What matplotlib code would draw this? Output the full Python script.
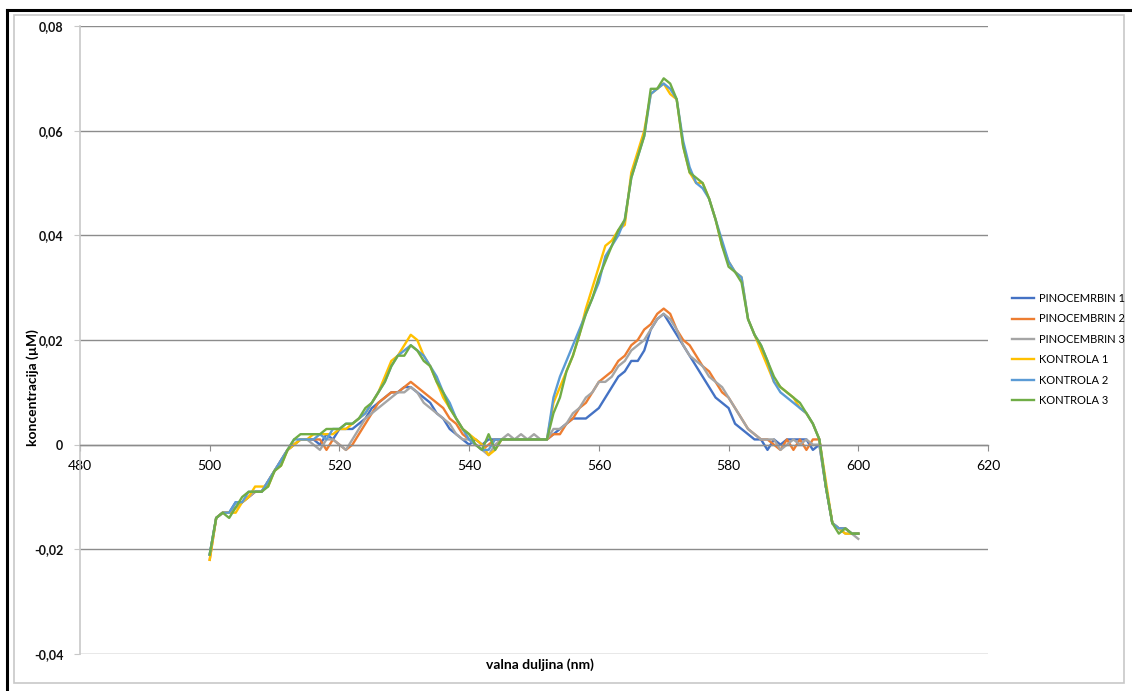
import numpy as np
import matplotlib
matplotlib.use("Agg")
import matplotlib.pyplot as plt
from matplotlib.patches import Rectangle

plt.rcParams["font.family"] = ["Lato", "DejaVu Sans"]

OUTPUT_NAME = "out.png"

# wavelength axis (nm), one reading per nm
WAVELENGTH = list(range(500, 601))

# concentrations in units of 0.001 uM (500..600 nm)
PINOCEMBRIN_1 = [
    -21, -14, -13, -13, -11, -11, -10, -9, -9, -7,
    -5, -3, -1, 0, 1, 1, 1, 0, 2, 1,
    3, 3, 3, 4, 5, 7, 8, 9, 10, 10,
    11, 11, 10, 9, 8, 6, 5, 3, 2, 1,
    0, 1, 0, 1, 1, 1, 1, 1, 1, 1,
    1, 1, 1, 2, 3, 4, 5, 5, 5, 6,
    7, 9, 11, 13, 14, 16, 16, 18, 22, 24,
    25, 23, 21, 19, 17, 15, 13, 11, 9, 8,
    7, 4, 3, 2, 1, 1, -1, 1, 0, 1,
    1, 1, 1, -1, 0, -8, -15, -16, -16, -17,
    -17,
]
PINOCEMBRIN_2 = [
    -22, -14, -13, -13, -12, -11, -10, -9, -9, -7,
    -5, -3, -1, 0, 1, 1, 1, 1, -1, 1,
    0, -1, 0, 2, 4, 6, 8, 9, 10, 10,
    11, 12, 11, 10, 9, 8, 7, 5, 4, 2,
    1, 0, -1, 0, 1, 1, 1, 1, 1, 1,
    1, 1, 1, 2, 2, 4, 5, 7, 8, 10,
    12, 13, 14, 16, 17, 19, 20, 22, 23, 25,
    26, 25, 22, 20, 19, 17, 15, 14, 12, 10,
    9, 7, 5, 3, 2, 1, 1, 0, -1, 1,
    -1, 1, -1, 1, 1, -8, -15, -16, -16, -17,
    -17,
]
PINOCEMBRIN_3 = [
    -21, -14, -13, -13, -12, -11, -10, -9, -9, -7,
    -5, -3, -1, 0, 1, 1, 0, -1, 1, 1,
    0, -1, 1, 3, 5, 6, 7, 8, 9, 10,
    10, 11, 10, 8, 7, 6, 5, 4, 2, 1,
    1, 0, -1, -2, 0, 1, 2, 1, 2, 1,
    2, 1, 1, 3, 3, 4, 6, 7, 9, 10,
    12, 12, 13, 15, 16, 18, 19, 20, 22, 24,
    25, 24, 22, 19, 17, 16, 15, 13, 12, 11,
    9, 7, 5, 3, 2, 1, 1, 1, -1, 0,
    1, 0, 1, 0, 0, -8, -15, -16, -17, -17,
    -18,
]
KONTROLA_1 = [
    -22, -14, -13, -13, -13, -11, -10, -8, -8, -8,
    -5, -4, -1, 0, 1, 1, 2, 2, 2, 2,
    3, 3, 4, 5, 6, 8, 10, 13, 16, 17,
    19, 21, 20, 17, 15, 12, 9, 7, 5, 3,
    2, 1, 0, -2, -1, 1, 1, 1, 1, 1,
    1, 1, 1, 8, 11, 14, 17, 21, 26, 30,
    34, 38, 39, 41, 42, 52, 56, 60, 67, 68,
    69, 67, 66, 57, 52, 50, 50, 47, 43, 38,
    35, 33, 32, 24, 21, 18, 15, 12, 11, 10,
    9, 7, 6, 4, 1, -7, -15, -16, -17, -17,
    -17,
]
KONTROLA_2 = [
    -21, -14, -13, -13, -11, -11, -9, -9, -9, -7,
    -5, -3, -1, 1, 1, 1, 1, 2, 1, 3,
    3, 4, 4, 5, 6, 8, 10, 12, 15, 17,
    18, 19, 18, 17, 15, 13, 10, 8, 5, 3,
    1, 0, -1, -1, 1, 1, 1, 1, 1, 1,
    1, 1, 1, 9, 13, 16, 19, 22, 25, 28,
    31, 36, 38, 40, 43, 51, 55, 59, 67, 68,
    69, 68, 66, 58, 53, 50, 49, 47, 43, 39,
    35, 33, 32, 24, 21, 19, 16, 12, 10, 9,
    8, 7, 6, 4, 1, -8, -15, -16, -16, -17,
    -17,
]
KONTROLA_3 = [
    -21, -14, -13, -14, -12, -10, -9, -9, -9, -8,
    -5, -4, -1, 1, 2, 2, 2, 2, 3, 3,
    3, 4, 4, 5, 7, 8, 10, 12, 15, 17,
    17, 19, 18, 16, 15, 12, 10, 7, 5, 3,
    2, 0, -1, 2, -1, 1, 1, 1, 1, 1,
    1, 1, 1, 6, 9, 14, 17, 21, 25, 28,
    32, 35, 38, 41, 43, 51, 55, 59, 68, 68,
    70, 69, 66, 57, 52, 51, 50, 47, 43, 38,
    34, 33, 31, 24, 21, 19, 16, 13, 11, 10,
    9, 8, 6, 4, 1, -8, -15, -17, -16, -17,
    -17,
]

SERIES = {
    "PINOCEMRBIN 1": PINOCEMBRIN_1,
    "PINOCEMBRIN 2": PINOCEMBRIN_2,
    "PINOCEMBRIN 3": PINOCEMBRIN_3,
    "KONTROLA 1": KONTROLA_1,
    "KONTROLA 2": KONTROLA_2,
    "KONTROLA 3": KONTROLA_3,
}
COLORS = ["#4472C4", "#ED7D31", "#A5A5A5", "#FFC000", "#5B9BD5", "#70AD47"]

X_TICKS = [480, 500, 520, 540, 560, 580, 600, 620]
Y_TICKS = [-0.04, -0.02, 0.0, 0.02, 0.04, 0.06, 0.08]
Y_LABELS = ["-0,04", "-0,02", "0", "0,02", "0,04", "0,06", "0,08"]

W, H = 1132, 691


def main():
    fig = plt.figure(figsize=(W / 100, H / 100), dpi=100)
    fig.patch.set_facecolor("white")

    # outer frame like the screenshot of the Excel chart
    fig.add_artist(Rectangle((14 / W, 1 - 683 / H), (1124 - 14) / W, (683 - 15) / H,
                             transform=fig.transFigure, fill=False,
                             edgecolor="#c8c8c8", linewidth=1.2))
    fig.add_artist(plt.Line2D([7 / W, 7 / W], [0, 1 - 10 / H], transform=fig.transFigure,
                              color="black", linewidth=2.2))
    fig.add_artist(plt.Line2D([7 / W, 1], [1 - 10 / H, 1 - 10 / H], transform=fig.transFigure,
                              color="black", linewidth=2.2))

    ax = fig.add_axes([80 / W, 1 - 654 / H, (988 - 80) / W, (654 - 26) / H])

    for (name, vals), color in zip(SERIES.items(), COLORS):
        ax.plot(WAVELENGTH, np.array(vals) / 1000.0, color=color, linewidth=1.7,
                label=name, solid_joinstyle="round")

    ax.set_xlim(480, 620)
    ax.set_ylim(-0.04, 0.08)

    ax.set_yticks(Y_TICKS)
    ax.set_yticklabels(Y_LABELS, fontsize=9, fontweight="bold", color="#111111")
    ax.set_xticks(X_TICKS)
    ax.set_xticklabels([str(t) for t in X_TICKS], fontsize=8.5, color="#333333")

    ax.grid(axis="y", color="#8c8c8c", linewidth=1.0)
    ax.set_axisbelow(True)
    for s in ["top", "right"]:
        ax.spines[s].set_visible(False)
    ax.spines["left"].set_color("#c8c8c8")
    ax.spines["left"].set_linewidth(1.2)
    ax.spines["bottom"].set_position(("data", 0))
    ax.spines["bottom"].set_color("#8c8c8c")
    ax.spines["bottom"].set_linewidth(1.0)
    ax.tick_params(axis="x", length=4, color="#8c8c8c", pad=7)
    ax.tick_params(axis="y", length=4, color="#c8c8c8", pad=8)

    fig.text(33 / W, 1 - 388 / H, "koncentracija (µM)", rotation=90, ha="center",
             va="center", fontsize=10, fontweight="bold")
    fig.text(540 / W, 1 - 665 / H, "valna duljina (nm)", ha="center", va="center",
             fontsize=10, fontweight="bold")

    fig.legend(loc="upper left", bbox_to_anchor=(1012 / W, 1 - 293 / H),
               frameon=False, fontsize=8, handlelength=2.0, handletextpad=0.4,
               labelspacing=0.85, borderpad=0, borderaxespad=0)

    fig.savefig(OUTPUT_NAME, dpi=100)


if __name__ == "__main__":
    main()
